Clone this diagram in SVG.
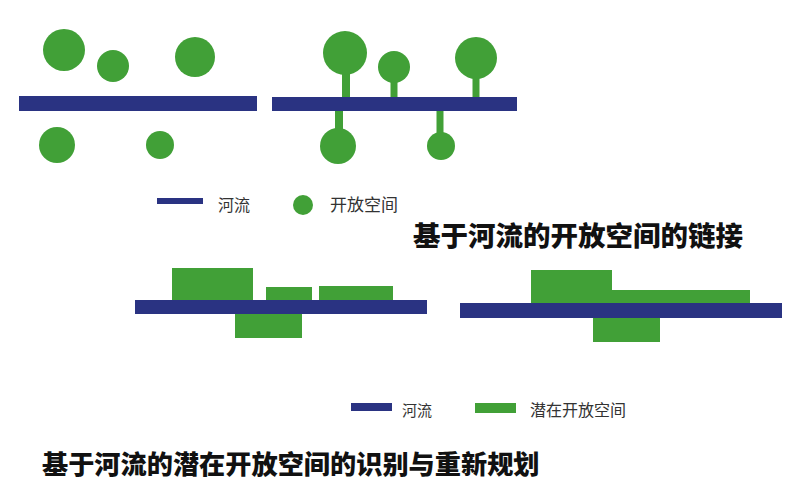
<svg xmlns="http://www.w3.org/2000/svg" width="800" height="492" viewBox="0 0 800 492">
<style>
.river{fill:#2a3382}
.green{fill:#41a037}
.stem{stroke:#41a037;stroke-width:8}
.lbl{font-family:"Noto Sans CJK SC","Noto Sans",sans-serif;fill:#333;font-size:16px}
.title{font-family:"Noto Sans CJK SC","Noto Sans",sans-serif;fill:#111;font-weight:900;font-size:27.5px}
</style>
<rect width="800" height="492" fill="#ffffff"/>
<!-- Diagram 1: separated -->
<g id="river1"><rect class="river" x="19" y="96" width="238" height="15"/></g>
<g id="space1a"><circle class="green" cx="64" cy="50" r="21"/></g>
<g id="space1b"><circle class="green" cx="113" cy="66" r="16"/></g>
<g id="space1c"><circle class="green" cx="195" cy="57" r="20"/></g>
<g id="space1d"><circle class="green" cx="57" cy="145" r="18"/></g>
<g id="space1e"><circle class="green" cx="160" cy="145" r="14"/></g>
<!-- Diagram 2: linked -->
<g id="connectors">
<line class="stem" x1="346" y1="70" x2="346" y2="98"/>
<line class="stem" x1="394" y1="78" x2="394" y2="98" style="stroke-width:7"/>
<line class="stem" x1="476" y1="74" x2="476" y2="98" style="stroke-width:7"/>
<line class="stem" x1="339" y1="110" x2="339" y2="132"/>
<line class="stem" x1="440" y1="110" x2="440" y2="136" style="stroke-width:7"/>
</g>
<g id="river2"><rect class="river" x="272" y="97" width="245" height="14"/></g>
<g id="space2a"><circle class="green" cx="345" cy="53" r="22"/></g>
<g id="space2b"><circle class="green" cx="394" cy="67" r="16"/></g>
<g id="space2c"><circle class="green" cx="476" cy="58" r="21"/></g>
<g id="space2d"><circle class="green" cx="338" cy="146" r="18"/></g>
<g id="space2e"><circle class="green" cx="441" cy="146" r="14"/></g>
<!-- Legend 1 -->
<g id="legend1">
<rect class="river" x="157" y="198" width="46" height="6"/>
<text class="lbl" x="218" y="211">河流</text>
<circle class="green" cx="303" cy="205" r="10"/>
<text class="lbl" x="330" y="211" style="font-size:17px">开放空间</text>
</g>
<g id="title1"><text class="title" x="413" y="246">基于河流的开放空间的链接</text></g>
<!-- Diagram 3 -->
<g id="potential3">
<rect class="green" x="172" y="268" width="81" height="32"/>
<rect class="green" x="266" y="287" width="46" height="13"/>
<rect class="green" x="319" y="286" width="74" height="14"/>
<rect class="green" x="235" y="314" width="67" height="24"/>
</g>
<g id="river3"><rect class="river" x="135" y="300" width="292" height="14"/></g>
<!-- Diagram 4 -->
<g id="potential4">
<path class="green" d="M531 270H612V290H750V304H531Z"/>
<rect class="green" x="593" y="317" width="67" height="25"/>
</g>
<g id="river4"><rect class="river" x="460" y="303" width="322" height="15"/></g>
<!-- Legend 2 -->
<g id="legend2">
<rect class="river" x="351" y="403" width="41" height="8"/>
<text class="lbl" x="402" y="416" style="font-size:15px">河流</text>
<rect class="green" x="475" y="403" width="41" height="10"/>
<text class="lbl" x="530" y="416">潜在开放空间</text>
</g>
<g id="title2"><text class="title" x="42" y="474" style="font-size:26.2px">基于河流的潜在开放空间的识别与重新规划</text></g>
</svg>
